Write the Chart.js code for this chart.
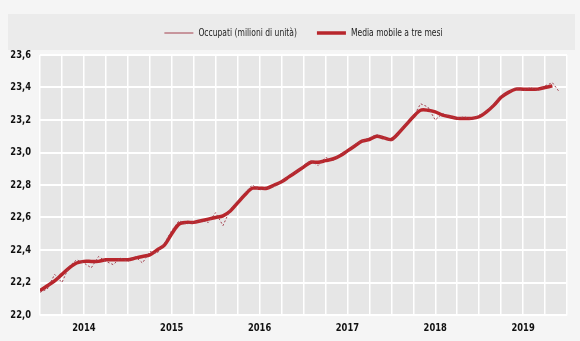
<!DOCTYPE html>
<html>
<head>
<meta charset="utf-8">
<script src="https://cdn.jsdelivr.net/npm/chart.js@4/dist/chart.umd.min.js"></script>
<style>
  html, body { margin: 0; padding: 0; background: #f5f5f5; }
  #wrap { width: 580px; height: 341px; }
</style>
</head>
<body>
<div id="wrap"><canvas id="chart"></canvas></div>
<script>
const years = ['2014', '2015', '2016', '2017', '2018', '2019'];

// occupati, milioni di unità, monthly from Jan 2014
const occupati = [
  22.14, 22.16, 22.25, 22.20, 22.30, 22.34, 22.32, 22.29, 22.36, 22.33, 22.31, 22.35,
  22.33, 22.36, 22.32, 22.39, 22.38, 22.44, 22.52, 22.58, 22.56, 22.57, 22.58, 22.57,
  22.63, 22.55, 22.65, 22.70, 22.75, 22.80, 22.77, 22.78, 22.79, 22.82, 22.86, 22.88,
  22.92, 22.95, 22.92, 22.97, 22.95, 22.99, 23.00, 23.05, 23.07, 23.09, 23.11, 23.09,
  23.07, 23.12, 23.18, 23.22, 23.30, 23.28, 23.20, 23.24, 23.22, 23.21, 23.22, 23.20,
  23.23, 23.25, 23.30, 23.35, 23.37, 23.40, 23.38, 23.40, 23.38, 23.41, 23.43, 23.37
];

// media mobile a tre mesi
const mediaMobile = [
  22.15, 22.18, 22.21, 22.25, 22.29, 22.32, 22.33, 22.33, 22.33, 22.34, 22.34, 22.34,
  22.34, 22.35, 22.36, 22.37, 22.40, 22.43, 22.50, 22.56, 22.57, 22.57, 22.58, 22.59,
  22.60, 22.61, 22.64, 22.69, 22.74, 22.78, 22.78, 22.78, 22.80, 22.82, 22.85, 22.88,
  22.91, 22.94, 22.94, 22.95, 22.96, 22.98, 23.01, 23.04, 23.07, 23.08, 23.10, 23.09,
  23.08, 23.12, 23.17, 23.22, 23.26, 23.26, 23.25, 23.23, 23.22, 23.21, 23.21, 23.21,
  23.22, 23.25, 23.29, 23.34, 23.37, 23.39, 23.39, 23.39, 23.39, 23.40, 23.41
];

const yMin = 22.0;
const yMax = 23.6;
const yStep = 0.2;

const FONT = '"DejaVu Sans", sans-serif';
const NARROW = 0.76; // the original uses a condensed face

// squeeze all canvas text horizontally
const narrowText = {
  id: 'narrowText',
  beforeInit(chart) {
    const ctx = chart.ctx;
    const fill = ctx.fillText.bind(ctx);
    const measure = ctx.measureText.bind(ctx);
    ctx.fillText = (text, x, y, maxWidth) => {
      ctx.save();
      ctx.translate(x, y);
      ctx.scale(NARROW, 1);
      if (maxWidth === undefined) fill(text, 0, 0);
      else fill(text, 0, 0, maxWidth / NARROW);
      ctx.restore();
    };
    ctx.measureText = text => {
      const m = measure(text);
      return {
        width: m.width * NARROW,
        actualBoundingBoxAscent: m.actualBoundingBoxAscent,
        actualBoundingBoxDescent: m.actualBoundingBoxDescent
      };
    };
  }
};

// more room between legend and plot
const legendGap = {
  id: 'legendGap',
  beforeInit(chart) {
    const fit = chart.legend.fit;
    chart.legend.fit = function () {
      fit.call(this);
      this.height += 7;
    };
  }
};

const backgrounds = {
  id: 'backgrounds',
  beforeDraw(chart) {
    const {ctx, chartArea: a} = chart;
    ctx.save();
    ctx.fillStyle = '#f5f5f5';
    ctx.fillRect(0, 0, chart.width, chart.height);
    ctx.fillStyle = '#ebebeb';
    ctx.fillRect(8, 14, 567, 36);
    ctx.fillStyle = '#e6e6e6';
    ctx.fillRect(a.left, a.top, a.right - a.left, a.bottom - a.top);
    ctx.restore();
  }
};

const toPoints = arr => arr.map((v, i) => ({x: i, y: v}));

new Chart(document.getElementById('chart'), {
  type: 'line',
  data: {
    datasets: [
      {
        label: 'Occupati (milioni di unità)',
        data: toPoints(occupati),
        borderColor: '#a3404f',
        backgroundColor: '#a3404f',
        borderWidth: 1,
        borderDash: [2, 2],
        pointRadius: 0,
        pointStyle: 'line',
        tension: 0,
      },
      {
        label: 'Media mobile a tre mesi',
        data: toPoints(mediaMobile),
        borderColor: '#b8262c',
        backgroundColor: '#b8262c',
        borderWidth: 3.5,
        pointRadius: 0,
        pointStyle: 'line',
        tension: 0.3,
      }
    ]
  },
  options: {
    responsive: true,
    maintainAspectRatio: false,
    animation: false,
    layout: { padding: { top: 8, right: 13, bottom: 0, left: 0 } },
    plugins: {
      legend: {
        position: 'top',
        fullSize: false,
        labels: {
          usePointStyle: true,
          pointStyleWidth: 29,
          padding: 20,
          color: '#222',
          font: { family: FONT, size: 10 }
        }
      },
      tooltip: { enabled: false }
    },
    scales: {
      x: {
        type: 'linear',
        min: 0,
        max: 72,
        afterFit: s => { s.height = 26; },
        grid: { color: '#ffffff', lineWidth: 1.5, drawTicks: false },
        border: { color: '#ffffff', width: 1.5 },
        ticks: {
          stepSize: 3,
          autoSkip: false,
          maxRotation: 0,
          padding: 7,
          color: '#111',
          font: { family: FONT, size: 11, weight: 'bold' },
          callback: v => (v % 12 === 6 ? years[(v - 6) / 12] : '')
        }
      },
      y: {
        min: yMin,
        max: yMax,
        afterFit: s => { s.width = 40; },
        grid: { color: '#ffffff', lineWidth: 2, drawTicks: false },
        border: { display: false },
        ticks: {
          stepSize: yStep,
          padding: 9,
          color: '#111',
          font: { family: FONT, size: 11, weight: 'bold' },
          callback: v => v.toFixed(1).replace('.', ',')
        }
      }
    }
  },
  plugins: [narrowText, legendGap, backgrounds]
});
</script>
</body>
</html>
